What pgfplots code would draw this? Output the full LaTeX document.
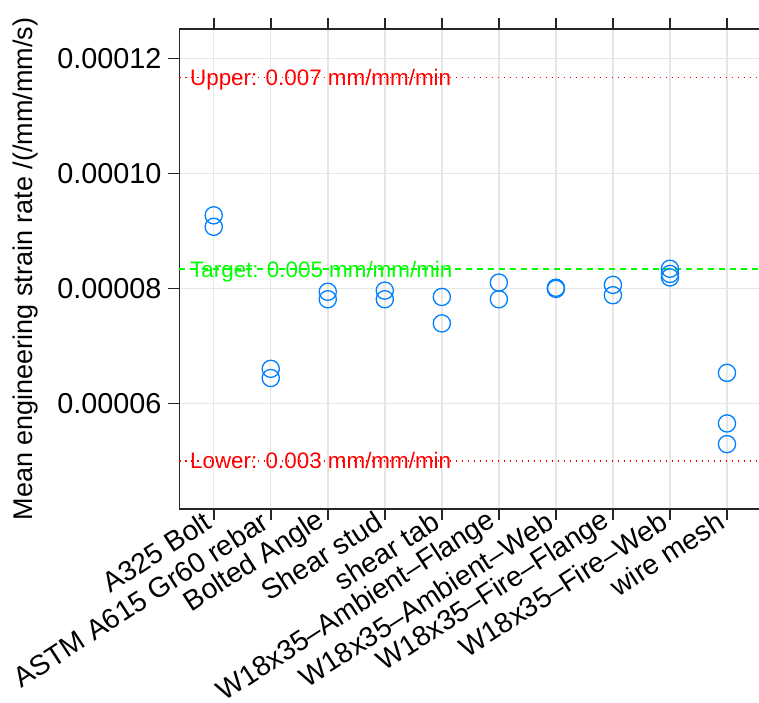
\documentclass[border=0pt]{standalone}
\usepackage{fontspec}
\setmainfont{Liberation Sans}
\usepackage{pgfplots}
\pgfplotsset{compat=1.18}
\definecolor{ptblue}{HTML}{0080FF}
\definecolor{gridgray}{HTML}{E6E6E6}
\definecolor{refgreen}{HTML}{00FF00}
\definecolor{refred}{HTML}{FF0000}
\begin{document}
\begin{tikzpicture}
\begin{axis}[
  at={(0,0)}, anchor=south west,
  scale only axis, width=290.85pt, height=240pt,
  xmin=-0.6, xmax=9.6, ymin=0.00004162, ymax=0.0001251,
  xtick={0,1,2,3,4,5,6,7,8,9},
  xticklabels={A325 Bolt, ASTM A615 Gr60 rebar, Bolted Angle, Shear stud, shear tab, W18x35–Ambient–Flange, W18x35–Ambient–Web, W18x35–Fire–Flange, W18x35–Fire–Web, wire mesh},
  ytick={0.00006,0.00008,0.0001,0.00012},
  yticklabels={0.00006,0.00008,0.00010,0.00012},
  scaled y ticks=false,
  xtick pos=both,
  tick align=outside,
  major tick length=5.5pt,
  tick style={black!85, line width=0.8pt},
  axis line style={black!85, line width=0.7pt},
  grid=major,
  grid style={gridgray, line width=0.75pt},
  x tick label style={font=\fontsize{14.1}{16}\selectfont, yshift=2.5pt, rotate=33, anchor=east},
  y tick label style={font=\fontsize{14.4}{16}\selectfont},
  ylabel={Mean engineering strain rate /(/mm/mm/s)},
  ylabel style={at={(axis description cs:-0.2639,0.5)}, anchor=center, font=\fontsize{13.5}{16}\selectfont},
  clip=false,
]
\addplot[refred, line width=0.75pt, dash pattern=on 0.75pt off 2.25pt] coordinates {(-0.6,0.00011667) (9.6,0.00011667)};
\addplot[refred, line width=0.75pt, dash pattern=on 0.75pt off 2.25pt] coordinates {(-0.6,0.00005) (9.6,0.00005)};
\addplot[refgreen, line width=0.8pt, dash pattern=on 3pt off 2.5pt] coordinates {(-0.6,0.00008333) (9.6,0.00008333)};
\addplot[only marks, mark=o, mark size=4.3pt, mark options={ptblue, line width=0.65pt}] coordinates {
(0,0.0000927) (0,0.0000907)
(1,0.0000660) (1,0.0000644)
(2,0.0000794) (2,0.0000781)
(3,0.0000796) (3,0.0000781)
(4,0.0000785) (4,0.0000739)
(5,0.0000810) (5,0.0000781)
(6,0.0000801) (6,0.0000799)
(7,0.0000806) (7,0.0000788)
(8,0.0000834) (8,0.0000825) (8,0.0000819)
(9,0.0000653) (9,0.0000565) (9,0.0000529)
};
\node[anchor=base west, inner sep=0pt, yshift=-4pt, text=refred, font=\fontsize{11.2}{13}\selectfont] at (axis cs:-0.42,0.00011667) {Upper: 0.007 mm/mm/min};
\node[anchor=base west, inner sep=0pt, yshift=-4pt, text=refgreen, font=\fontsize{11.2}{13}\selectfont] at (axis cs:-0.42,0.00008333) {Target: 0.005 mm/mm/min};
\node[anchor=base west, inner sep=0pt, yshift=-4pt, text=refred, font=\fontsize{11.2}{13}\selectfont] at (axis cs:-0.42,0.00005) {Lower: 0.003 mm/mm/min};
\end{axis}
\pgfresetboundingbox
\useasboundingbox (-89.75pt,-96.5pt) rectangle (289.75pt,254.5pt);
\end{tikzpicture}
\end{document}
